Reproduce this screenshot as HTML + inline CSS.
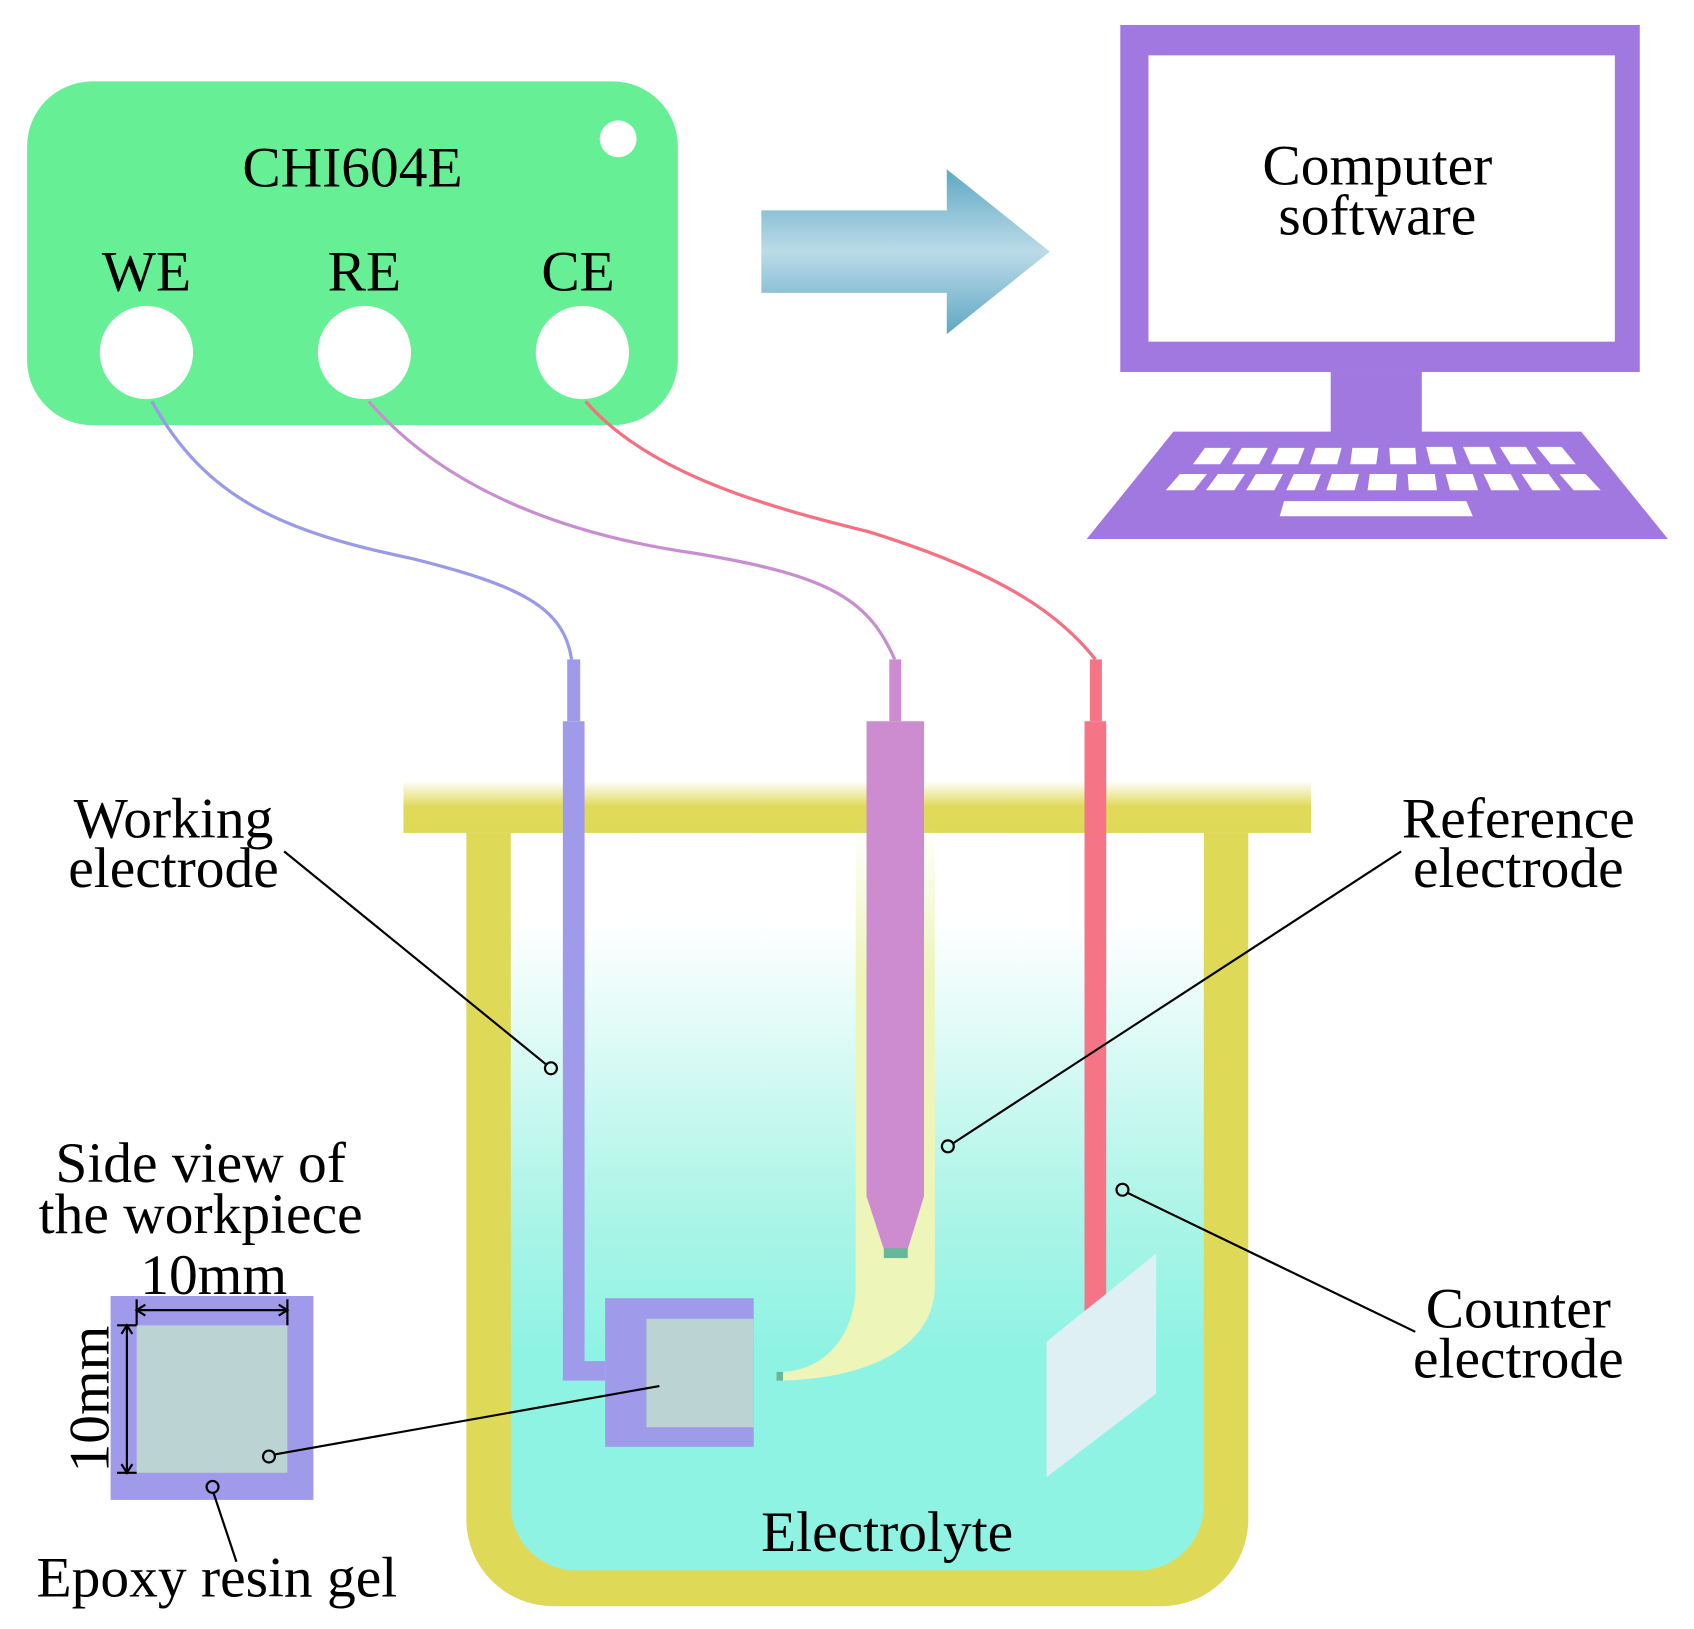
<!DOCTYPE html>
<html><head><meta charset="utf-8"><style>html,body{margin:0;padding:0;background:#fff}svg{display:block}text{font-family:"Liberation Serif",serif;fill:#000}</style></head><body>
<svg width="1694" height="1629" viewBox="0 0 1562 1502" xmlns="http://www.w3.org/2000/svg">
<defs>
<linearGradient id="arr" x1="0" y1="0" x2="0" y2="1"><stop offset="0" stop-color="#5ea8c4"/><stop offset="0.5" stop-color="#bcdbe8"/><stop offset="1" stop-color="#5ea8c4"/></linearGradient>
<linearGradient id="lid" x1="0" y1="0" x2="0" y2="1"><stop offset="0" stop-color="#fff"/><stop offset="0.5" stop-color="#e0d95a"/><stop offset="1" stop-color="#dfd958"/></linearGradient>
<linearGradient id="liq" x1="0" y1="768" x2="0" y2="1448" gradientUnits="userSpaceOnUse"><stop offset="0" stop-color="#fff"/><stop offset="0.12" stop-color="#fff"/><stop offset="0.5" stop-color="#aef5e8"/><stop offset="0.7" stop-color="#8ff3e3"/><stop offset="1" stop-color="#8ff3e3"/></linearGradient>
<linearGradient id="tube" x1="0" y1="760" x2="0" y2="900" gradientUnits="userSpaceOnUse"><stop offset="0" stop-color="#eef5b8" stop-opacity="0"/><stop offset="1" stop-color="#eef5b8"/></linearGradient>
</defs>
<rect x="25" y="75" width="600" height="317" rx="60" fill="#66ef94"/>
<circle cx="570" cy="128" r="17" fill="#fff"/>
<g font-size="53" text-anchor="middle">
<text x="325" y="172">CHI604E</text>
<text x="135" y="268">WE</text>
<text x="336" y="268">RE</text>
<text x="533" y="268">CE</text>
</g>
<circle cx="135" cy="325" r="43" fill="#fff"/><circle cx="336" cy="325" r="43" fill="#fff"/><circle cx="537" cy="325" r="43" fill="#fff"/>
<polygon points="702,194 873,194 873,156 968,232 873,308 873,270 702,270" fill="url(#arr)"/>
<rect x="1033" y="23" width="479" height="320" fill="#a178e0"/>
<rect x="1059" y="51" width="430" height="264" fill="#fff"/>
<rect x="1227" y="343" width="84" height="56" fill="#a178e0"/>
<polygon points="1082,398 1458,398 1538,497 1002,497" fill="#a178e0"/>
<g fill="#fff">
<polygon points="1111,413 1135,413 1125,428 1100,428"/><polygon points="1145,413 1169,413 1161,428 1136,428"/><polygon points="1179,413 1203,413 1197,428 1172,428"/><polygon points="1213,413 1237,413 1233,428 1208,428"/><polygon points="1247,413 1271,413 1269,428 1245,428"/><polygon points="1281,413 1305,413 1306,428 1282,428"/><polygon points="1315,412 1339,412 1343,428 1319,428"/><polygon points="1349,412 1373,412 1380,428 1356,428"/><polygon points="1383,412 1407,412 1417,428 1393,428"/><polygon points="1417,412 1440,412 1453,428 1430,428"/>
<polygon points="1088,437 1113,437 1101,452 1075,452"/><polygon points="1123,437 1148,437 1138,452 1112,452"/><polygon points="1158,437 1183,437 1175,452 1149,452"/><polygon points="1193,437 1218,437 1212,452 1186,452"/><polygon points="1228,437 1253,437 1249,452 1223,452"/><polygon points="1263,437 1288,437 1287,452 1261,452"/><polygon points="1298,437 1323,437 1325,452 1299,452"/><polygon points="1333,437 1358,437 1363,452 1337,452"/><polygon points="1368,437 1393,437 1401,452 1375,452"/><polygon points="1403,437 1428,437 1439,452 1413,452"/><polygon points="1438,437 1462,437 1476,452 1451,452"/>
<polygon points="1184,462 1352,462 1358,476 1180,476"/>
</g>
<path d="M140,370 C190,460 260,490 380,515 C480,540 520,560 527,608" fill="none" stroke="#9a9ae8" stroke-width="3"/>
<path d="M340,370 C400,440 500,490 640,510 C760,530 800,550 825,608" fill="none" stroke="#c88fd0" stroke-width="3"/>
<path d="M540,370 C600,440 720,470 800,490 C930,530 980,570 1010,608" fill="none" stroke="#f57080" stroke-width="3"/>
<path d="M430,768 H1151 V1401 A80,80 0 0 1 1071,1481 H510 A80,80 0 0 1 430,1401 Z" fill="#dfd958"/>
<path d="M471,768 H1110 V1388 A60,60 0 0 1 1050,1448 H531 A60,60 0 0 1 471,1388 Z" fill="url(#liq)"/>
<rect x="372" y="720" width="837" height="48" fill="url(#lid)"/>
<path d="M789,760 H862 V1186 C862,1230 820,1270 722,1273 V1265 C770,1262 789,1220 789,1186 Z" fill="url(#tube)"/>
<rect x="716" y="1265" width="6" height="8" fill="#66b898"/>
<rect x="820" y="608" width="11" height="57" fill="#cc8ccf"/>
<polygon points="799,665 852,665 852,1103 837,1152 815,1152 799,1103" fill="#cc8ccf"/>
<rect x="815" y="1151" width="22" height="9" fill="#66b898"/>
<rect x="523" y="608" width="12" height="57" fill="#9f9aea"/>
<path d="M519,665 H539 V1255 H558 V1273 H519 Z" fill="#9f9aea"/>
<rect x="558" y="1197" width="137" height="137" fill="#9f9aea"/>
<rect x="596" y="1216" width="99" height="100" fill="#bbd3d3"/>
<rect x="1005" y="608" width="11" height="57" fill="#f57586"/>
<rect x="1000" y="665" width="20" height="545" fill="#f57586"/>
<polygon points="965,1237 1066,1156 1066,1285 965,1362" fill="#dff0f5"/>
<rect x="102" y="1195" width="187" height="188" fill="#9f9aea"/>
<rect x="126" y="1222" width="139" height="136" fill="#bbd3d3"/>
<g font-size="53" text-anchor="middle">
<text x="160" y="772">Working</text><text x="160" y="818">electrode</text>
<text x="1400" y="772">Reference</text><text x="1400" y="818">electrode</text>
<text x="1400" y="1224">Counter</text><text x="1400" y="1270">electrode</text>
<text x="818" y="1430">Electrolyte</text>
<text x="185" y="1090">Side view of</text><text x="185" y="1137">the workpiece</text>
<text x="197" y="1193">10mm</text>
<text x="200" y="1472">Epoxy resin gel</text>
<text x="0" y="0" transform="translate(100,1290) rotate(-90)">10mm</text>
<text x="1270" y="170">Computer</text><text x="1270" y="216">software</text>
</g>
<g stroke="#000" stroke-width="2" fill="none">
<line x1="262" y1="785" x2="503" y2="981"/><circle cx="508" cy="985" r="5.5"/>
<line x1="1292" y1="785" x2="879" y2="1054"/><circle cx="874" cy="1057" r="5.5"/>
<line x1="1305" y1="1228" x2="1040" y2="1100"/><circle cx="1035" cy="1097" r="5.5"/>
<line x1="254" y1="1341" x2="608" y2="1278"/><circle cx="248" cy="1343" r="5.5"/>
<line x1="197" y1="1377" x2="218" y2="1440"/><circle cx="196" cy="1371" r="5.5"/>
<line x1="126" y1="1208" x2="265" y2="1208"/><line x1="126" y1="1198" x2="126" y2="1222"/><line x1="265" y1="1198" x2="265" y2="1222"/>
<polyline points="134,1203 126,1208 134,1213"/><polyline points="257,1203 265,1208 257,1213"/>
<line x1="117" y1="1222" x2="117" y2="1358"/><line x1="108" y1="1222" x2="126" y2="1222"/><line x1="108" y1="1358" x2="126" y2="1358"/>
<polyline points="112,1230 117,1222 122,1230"/><polyline points="112,1350 117,1358 122,1350"/>
</g>
</svg>
</body></html>
